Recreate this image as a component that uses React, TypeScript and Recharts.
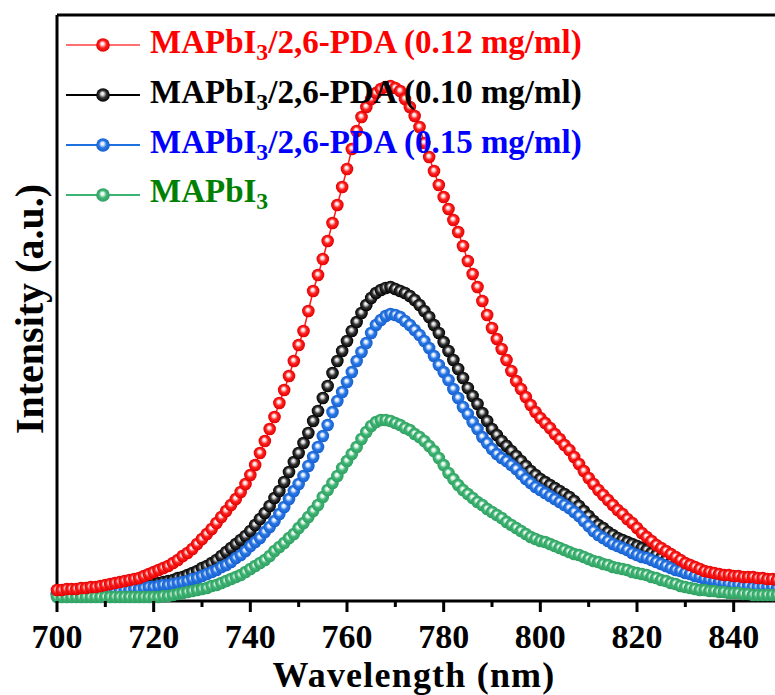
import React from 'react';
import { LineChart, Line, XAxis, YAxis, Legend, ReferenceLine } from 'recharts';

// wavelength in nm
const wavelengths = [
  700, 701, 702, 703, 704, 705, 706, 707, 708, 709,
  710, 711, 712, 713, 714, 715, 716, 717, 718, 719,
  720, 721, 722, 723, 724, 725, 726, 727, 728, 729,
  730, 731, 732, 733, 734, 735, 736, 737, 738, 739,
  740, 741, 742, 743, 744, 745, 746, 747, 748, 749,
  750, 751, 752, 753, 754, 755, 756, 757, 758, 759,
  760, 761, 762, 763, 764, 765, 766, 767, 768, 769,
  770, 771, 772, 773, 774, 775, 776, 777, 778, 779,
  780, 781, 782, 783, 784, 785, 786, 787, 788, 789,
  790, 791, 792, 793, 794, 795, 796, 797, 798, 799,
  800, 801, 802, 803, 804, 805, 806, 807, 808, 809,
  810, 811, 812, 813, 814, 815, 816, 817, 818, 819,
  820, 821, 822, 823, 824, 825, 826, 827, 828, 829,
  830, 831, 832, 833, 834, 835, 836, 837, 838, 839,
  840, 841, 842, 843, 844, 845, 846, 847, 848, 849,
  850,
];

// MAPbI3/2,6-PDA (0.12 mg/ml)
const pda012 = [
  11, 11, 12, 12, 12, 13, 13, 14, 14, 15,
  16, 17, 18, 19, 20, 21, 22, 23, 25, 27,
  29, 31, 33, 35, 38, 41, 45, 48, 52, 57,
  62, 67, 72, 78, 84, 90, 96, 102, 109, 117,
  126, 136, 148, 160, 172, 184, 198, 211, 225, 240,
  256, 270, 290, 310, 326, 342, 360, 378, 396, 414,
  432, 452, 470, 484, 494, 502, 508, 512, 514, 515,
  513, 510, 502, 494, 485, 474, 458, 444, 430, 416,
  404, 392, 381, 369, 355, 340, 327, 314, 300, 286,
  273, 262, 252, 241, 230, 220, 212, 204, 196, 189,
  183, 178, 173, 167, 162, 156, 151, 144, 137, 130,
  123, 117, 111, 106, 101, 96, 91, 87, 82, 78,
  73, 68, 64, 60, 56, 53, 50, 47, 44, 41,
  38, 36, 34, 32, 30, 29, 28, 27, 26, 26,
  25, 25, 24, 24, 24, 23, 23, 22, 22, 21,
  21,
];

// MAPbI3/2,6-PDA (0.10 mg/ml)
const pda010 = [
  7, 7, 7, 8, 8, 8, 9, 9, 9, 10,
  10, 11, 11, 12, 12, 13, 14, 14, 15, 16,
  17, 18, 19, 20, 21, 23, 24, 26, 28, 30,
  33, 35, 38, 41, 45, 49, 53, 57, 61, 65,
  70, 76, 82, 88, 95, 103, 110, 119, 129, 139,
  148, 158, 168, 180, 190, 203, 215, 228, 240, 250,
  260, 270, 279, 288, 296, 303, 308, 311, 313, 314,
  312, 310, 308, 305, 301, 296, 290, 284, 276, 268,
  259, 250, 241, 232, 223, 213, 205, 197, 188, 180,
  172, 166, 160, 155, 150, 145, 140, 135, 130, 126,
  122, 119, 116, 113, 110, 107, 104, 100, 95, 90,
  85, 80, 76, 73, 69, 66, 63, 61, 59, 57,
  55, 53, 51, 48, 46, 43, 41, 38, 36, 34,
  31, 30, 28, 27, 25, 24, 23, 23, 22, 22,
  21, 21, 20, 20, 20, 19, 19, 19, 19, 18,
  18,
];

// MAPbI3/2,6-PDA (0.15 mg/ml)
const pda015 = [
  6, 6, 6, 7, 7, 7, 7, 8, 8, 8,
  9, 9, 10, 10, 11, 11, 12, 12, 13, 14,
  14, 15, 16, 16, 17, 18, 19, 20, 22, 23,
  25, 27, 29, 31, 34, 36, 39, 43, 46, 50,
  55, 59, 63, 69, 74, 80, 87, 94, 102, 110,
  117, 125, 135, 144, 154, 165, 176, 189, 200, 209,
  219, 229, 240, 249, 258, 268, 276, 281, 285, 287,
  286, 284, 280, 276, 271, 266, 260, 253, 245, 236,
  229, 221, 212, 203, 194, 187, 179, 172, 164, 158,
  152, 147, 143, 140, 136, 132, 127, 122, 118, 114,
  111, 108, 105, 102, 99, 96, 93, 89, 85, 80,
  75, 70, 66, 63, 60, 57, 55, 53, 51, 48,
  46, 44, 43, 41, 39, 37, 35, 33, 31, 30,
  28, 27, 25, 24, 22, 21, 20, 19, 18, 17,
  16, 16, 15, 15, 14, 14, 14, 14, 14, 13,
  13,
];

// MAPbI3
const pristine = [
  4, 4, 4, 4, 4, 4, 4, 4, 4, 4,
  4, 4, 4, 4, 4, 4, 4, 4, 4, 4,
  4, 4, 5, 5, 6, 7, 8, 9, 10, 11,
  12, 13, 15, 16, 18, 20, 22, 24, 26, 29,
  32, 35, 38, 41, 45, 50, 54, 58, 63, 67,
  73, 78, 84, 90, 96, 104, 111, 118, 125, 133,
  140, 147, 154, 162, 169, 175, 179, 181, 181, 180,
  178, 176, 173, 171, 167, 164, 160, 155, 150, 143,
  136, 128, 122, 116, 111, 107, 103, 99, 96, 92,
  89, 86, 83, 79, 76, 73, 70, 67, 64, 62,
  60, 59, 57, 55, 53, 51, 49, 47, 46, 44,
  42, 40, 39, 37, 36, 34, 33, 32, 31, 29,
  28, 27, 26, 24, 23, 21, 20, 18, 17, 15,
  14, 13, 12, 11, 11, 10, 10, 9, 9, 8,
  8, 8, 7, 7, 6, 6, 6, 6, 6, 6,
  6,
];

const xTicks = [700, 710, 720, 730, 740, 750, 760, 770, 780, 790, 800, 810, 820, 830, 840, 850];

const data = wavelengths.map((w, i) => ({
  w,
  a: pda012[i],
  b: pda010[i],
  c: pda015[i],
  d: pristine[i],
}));

const FONT = "'Liberation Serif', 'Times New Roman', serif";

const series = [
  { key: 'a', conc: ' (0.12 mg/ml)', line: '#ff1a1a', legendLine: '#ff7070', text: '#ff0000', hi: '#ffe0e0', mid: '#ff2020', rim: '#e00000' },
  { key: 'b', conc: ' (0.10 mg/ml)', line: '#000000', legendLine: '#000000', text: '#000000', hi: '#d8d8d8', mid: '#333333', rim: '#000000' },
  { key: 'c', conc: ' (0.15 mg/ml)', line: '#1e6fe0', legendLine: '#1e6fe0', text: '#0000ff', hi: '#e0ecff', mid: '#2a78e4', rim: '#1660d0' },
  { key: 'd', conc: '', line: '#3cb371', legendLine: '#3cb371', text: '#008000', hi: '#e4f6ec', mid: '#40b574', rim: '#2fa062' },
];

const ball = (id: string, r: number) => (props: any) => {
  const { cx, cy, index } = props;
  if (cx == null || cy == null) return <g key={index} />;
  return <circle key={index} cx={cx} cy={cy} r={r} fill={`url(#${id})`} />;
};

const AxisTick = (props: any) => {
  const { x, y, payload } = props;
  const major = payload.value % 20 === 0;
  return (
    <g>
      <line x1={x} x2={x} y1={y} y2={y + (major ? 11 : 6)} stroke="#000" strokeWidth={3} />
      {major && (
        <text x={x} y={y + 47} textAnchor="middle" fontFamily={FONT} fontWeight="bold" fontSize={34} fill="#000">
          {payload.value}
        </text>
      )}
    </g>
  );
};

const LegendBox = () => (
  <div style={{ fontFamily: FONT, fontWeight: 'bold', fontSize: 33 }}>
    {series.map((s) => (
      <div key={s.key} style={{ display: 'flex', alignItems: 'center', height: 49.8 }}>
        <svg width={84} height={20} style={{ flex: 'none' }}>
          <line x1={0} x2={74} y1={10} y2={10} stroke={s.legendLine} strokeWidth={2} />
          <circle cx={37} cy={10} r={6.8} fill={`url(#g-${s.key})`} />
        </svg>
        <span style={{ color: s.text, whiteSpace: 'nowrap', lineHeight: 1 }}>
          MAPbI<sub style={{ fontSize: '0.72em', verticalAlign: '-0.3em' }}>3</sub>
          {s.key === 'd' ? '' : '/2,6-PDA'}
          {s.conc}
        </span>
      </div>
    ))}
  </div>
);

export default function App() {
  const drawOrder = [series[1], series[2], series[3], series[0]];
  return (
    <div style={{ position: 'absolute', left: 0, top: 0, width: 775, height: 695, overflow: 'hidden', background: '#fff' }}>
      <LineChart width={800} height={695} data={data} margin={{ top: 15, right: 18, left: 57, bottom: 0 }}>
        <defs>
          {series.map((s) => (
            <radialGradient key={s.key} id={`g-${s.key}`} cx="50%" cy="50%" r="50%" fx="45%" fy="38%">
              <stop offset="0%" stopColor="#ffffff" />
              <stop offset="22%" stopColor={s.hi} />
              <stop offset="55%" stopColor={s.mid} />
              <stop offset="100%" stopColor={s.rim} />
            </radialGradient>
          ))}
        </defs>
        <XAxis
          xAxisId="main"
          dataKey="w"
          type="number"
          domain={[700, 850]}
          ticks={xTicks}
          interval={0}
          height={94}
          tickSize={0}
          tickMargin={0}
          tickLine={false}
          tick={<AxisTick />}
          axisLine={{ stroke: '#000', strokeWidth: 3 }}
        />
        <YAxis yAxisId="main" type="number" domain={[0, 586]} hide />
        <ReferenceLine xAxisId="main" yAxisId="main" x={700} stroke="#000" strokeWidth={3} />
        <ReferenceLine xAxisId="main" yAxisId="main" y={586} stroke="#000" strokeWidth={3} />
        <Legend
          layout="vertical"
          align="center"
          verticalAlign="middle"
          content={<LegendBox />}
          wrapperStyle={{ position: 'absolute', left: 66, top: 20.5, width: 'auto', height: 'auto' }}
        />
        {drawOrder.map((s) => (
          <Line
            key={s.key}
            xAxisId="main"
            yAxisId="main"
            dataKey={s.key}
            type="linear"
            stroke={s.line}
            strokeWidth={1.5}
            dot={ball(`g-${s.key}`, 6.3)}
            activeDot={false}
            isAnimationActive={false}
            legendType="none"
          />
        ))}
      </LineChart>
      <div
        style={{
          position: 'absolute',
          left: 30,
          top: 309,
          transform: 'translate(-50%, -50%) rotate(-90deg)',
          fontFamily: FONT,
          fontWeight: 'bold',
          fontSize: 40,
          whiteSpace: 'nowrap',
          lineHeight: 1,
        }}
      >
        Intensity (a.u.)
      </div>
      <div
        style={{
          position: 'absolute',
          left: 414,
          top: 675,
          transform: 'translate(-50%, -50%)',
          fontFamily: FONT,
          fontWeight: 'bold',
          fontSize: 36,
          letterSpacing: 1.2,
          whiteSpace: 'nowrap',
          lineHeight: 1,
        }}
      >
        Wavelength (nm)
      </div>
    </div>
  );
}
